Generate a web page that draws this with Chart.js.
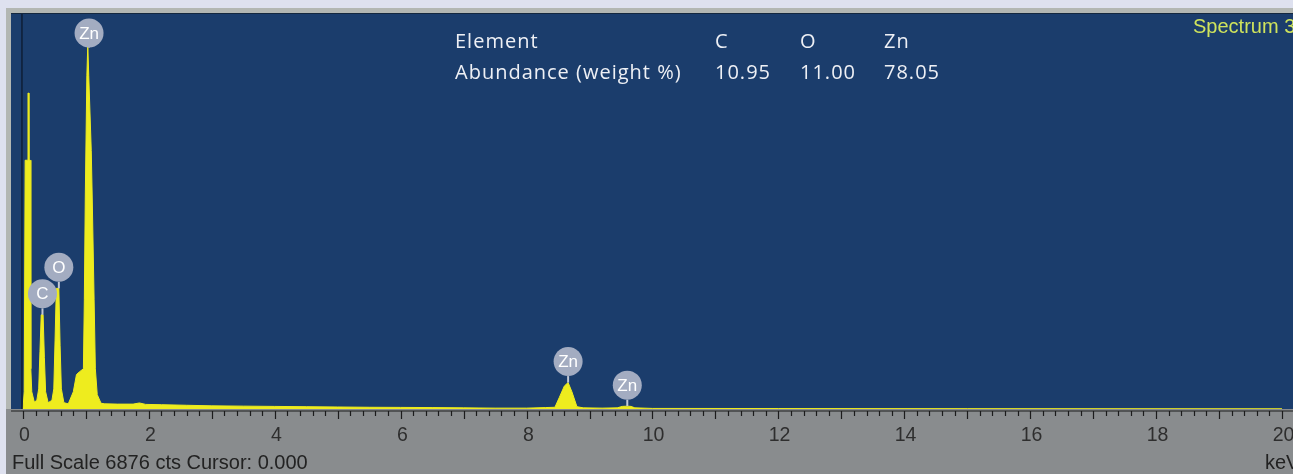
<!DOCTYPE html>
<html>
<head>
<meta charset="utf-8">
<script src="https://cdn.jsdelivr.net/npm/chart.js@4.4.0/dist/chart.umd.min.js"></script>
<style>
html, body { margin: 0; padding: 0; background: #dee1ef; }
canvas { display: block; }
</style>
</head>
<body>
<canvas id="spectrum" width="1293" height="474"></canvas>
<script>
// EDS spectrum: energy (keV) -> counts
const energies = [0.00, 0.02, 0.035, 0.075, 0.08, 0.09, 0.095, 0.115, 0.125, 0.14, 0.18,
    0.22, 0.25, 0.27, 0.29, 0.32, 0.34, 0.36, 0.40,
    0.46, 0.49, 0.51, 0.53, 0.57, 0.59, 0.61, 0.65, 0.72,
    0.80, 0.85, 0.90, 0.96, 0.975, 0.99, 1.015, 1.03, 1.045, 1.085, 1.10, 1.13, 1.15, 1.18, 1.24,
    1.30, 1.50, 1.75, 1.85, 1.95, 2.20, 2.60, 3.00, 3.50, 4.00, 4.50, 5.00, 5.50, 6.00, 6.50, 7.00, 7.50, 8.00, 8.30,
    8.45, 8.52, 8.60, 8.66, 8.72, 8.80, 8.90, 9.20,
    9.44, 9.52, 9.60, 9.66, 9.72, 10.00, 12.00, 15.00, 20.00];
const counts = [0, 300, 4330, 4330, 5500, 5500, 4330, 4330, 700, 300, 120,
    150, 350, 1000, 1640, 1640, 900, 300, 110,
    150, 350, 1200, 2100, 2100, 1100, 350, 110, 90,
    300, 600, 650, 700, 1900, 3690, 5800, 6340, 5800, 4500, 3690, 1900, 700, 250, 100,
    90, 85, 85, 105, 80, 75, 65, 55, 50, 45, 40, 35, 30, 28, 25, 20, 15, 15, 25,
    30, 200, 400, 460, 300, 40, 20, 15,
    20, 45, 50, 45, 20, 10, 8, 6, 4];

const tickLabels = ['0', '2', '4', '6', '8', '10', '12', '14', '16', '18', '20'];

// element markers on the peaks
const peakNames = ['C', 'O', 'Zn', 'Zn', 'Zn'];
const peakEnergies = [0.31, 0.57, 1.05, 8.66, 9.60];
const peakCounts = [1640, 2100, 6340, 460, 50];

// quantification table
const tableElements = ['C', 'O', 'Zn'];
const tableAbundance = ['10.95', '11.00', '78.05'];

const fullScale = 6876;
const cursorValue = '0.000';
const spectrumName = 'Spectrum 3';

const YELLOW = '#eeec1e';

const frame = {
    id: 'frame',
    beforeDraw(chart) {
        const { ctx, chartArea: a, width, height } = chart;
        ctx.save();
        ctx.fillStyle = '#dee1ef';
        ctx.fillRect(0, 0, width, height);
        ctx.fillStyle = '#b3b7b3';
        ctx.fillRect(6, 8, width - 6, height - 8);
        ctx.fillStyle = '#898c8e';
        ctx.fillRect(6, a.bottom, width - 6, height - a.bottom);
        ctx.fillStyle = '#1b3d6c';
        ctx.fillRect(a.left, a.top, a.right - a.left, a.bottom - a.top);
        ctx.fillStyle = '#15283f';
        ctx.fillRect(a.left, a.top - 1, a.right - a.left, 1);
        ctx.restore();
    },
    afterDraw(chart) {
        const { ctx, chartArea: a } = chart;
        const x = chart.scales.x, y = chart.scales.y;
        ctx.save();

        // zero line
        const x0 = x.getPixelForValue(0);
        ctx.strokeStyle = '#0e1e35';
        ctx.lineWidth = 1.5;
        ctx.beginPath();
        ctx.moveTo(x0 - 1, a.top);
        ctx.lineTo(x0 - 1, a.bottom);
        ctx.stroke();

        // axis line, tick marks and labels (from the scale's own ticks)
        ctx.strokeStyle = '#1c1c1c';
        ctx.lineWidth = 1.2;
        ctx.beginPath();
        ctx.moveTo(a.left, a.bottom + 2);
        ctx.lineTo(a.right, a.bottom + 2);
        ctx.stroke();
        ctx.fillStyle = '#2e2e2e';
        ctx.font = '19.5px "Liberation Sans"';
        ctx.textAlign = 'center';
        ctx.textBaseline = 'middle';
        x.ticks.forEach(t => {
            const px = Math.round(x.getPixelForValue(t.value)) + 0.5;
            const len = Number.isInteger(t.value) ? 8 : 5;
            ctx.beginPath();
            ctx.moveTo(px, a.bottom + 2);
            ctx.lineTo(px, a.bottom + 2 + len);
            ctx.stroke();
            const lbl = String(t.value);
            if (tickLabels.includes(lbl)) ctx.fillText(lbl, px + 1, a.bottom + 27);
        });

        // peak markers
        peakNames.forEach((name, i) => {
            const px = x.getPixelForValue(peakEnergies[i]);
            const py = y.getPixelForValue(peakCounts[i]);
            const r = 14.5;
            const cy = Math.max(py - 21, a.top + 19);
            ctx.strokeStyle = '#c3c9d6';
            ctx.lineWidth = 2;
            ctx.beginPath();
            ctx.moveTo(px, cy + r);
            ctx.lineTo(px, py);
            ctx.stroke();
            ctx.fillStyle = '#a3acc1';
            ctx.beginPath();
            ctx.arc(px, cy, r, 0, Math.PI * 2);
            ctx.fill();
            ctx.fillStyle = '#ffffff';
            ctx.font = '17px "Liberation Sans"';
            ctx.textAlign = 'center';
            ctx.textBaseline = 'middle';
            ctx.fillText(name, px, cy + 1);
        });

        // table
        ctx.fillStyle = '#eef0f5';
        ctx.font = '500 20px "Open Sans"';
        ctx.letterSpacing = '1px';
        ctx.textAlign = 'left';
        ctx.textBaseline = 'alphabetic';
        ctx.fillText('Element', 455, 48);
        ctx.fillText('Abundance (weight %)', 455, 79);
        const cols = [715, 800, 884];
        tableElements.forEach((el, i) => {
            ctx.fillText(el, cols[i], 48);
            ctx.fillText(tableAbundance[i], cols[i], 79);
        });
        ctx.letterSpacing = '0px';

        // spectrum name
        ctx.fillStyle = '#cfe35c';
        ctx.font = '20px "Liberation Sans"';
        ctx.fillText(spectrumName, 1193, 33);

        // status line
        ctx.fillStyle = '#222222';
        ctx.font = '20px "Liberation Sans"';
        ctx.fillText('Full Scale ' + fullScale + ' cts Cursor: ' + cursorValue, 12, 469);
        ctx.fillText('keV', 1265, 469);
        ctx.restore();
    }
};

new Chart(document.getElementById('spectrum'), {
    type: 'line',
    data: {
        datasets: [{
            data: energies.map((e, i) => ({ x: e, y: counts[i] })),
            borderColor: YELLOW,
            backgroundColor: YELLOW,
            borderWidth: 1,
            pointRadius: 0,
            fill: 'origin',
            tension: 0
        }]
    },
    options: {
        responsive: false,
        animation: false,
        devicePixelRatio: 1,
        layout: { padding: { left: 11, top: 14, right: 0, bottom: 0 } },
        plugins: { legend: { display: false }, tooltip: { enabled: false } },
        scales: {
            x: {
                type: 'linear',
                position: 'bottom',
                min: -0.19,
                max: 20.175,
                grid: { display: false },
                border: { display: false },
                ticks: {
                    display: false,
                    stepSize: 0.2,
                    includeBounds: false,
                    autoSkip: false
                },
                afterFit: s => { s.height = 65; }
            },
            y: {
                display: false,
                min: 0,
                max: fullScale
            }
        }
    },
    plugins: [frame]
});
</script>
</body>
</html>
